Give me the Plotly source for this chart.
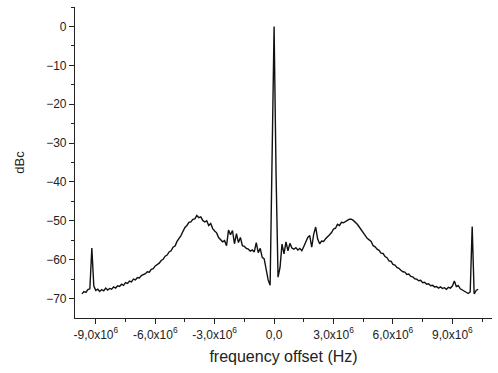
import numpy as np
import plotly.graph_objects as go

# frequency offset (MHz) and level (dBc)
freq_mhz = [
    -9.7, -9.6, -9.5, -9.4, -9.3, -9.2, -9.1, -9.0, -8.9, -8.8,
    -8.7, -8.6, -8.5, -8.4, -8.3, -8.2, -8.1, -8.0, -7.9, -7.8,
    -7.7, -7.6, -7.5, -7.4, -7.3, -7.2, -7.1, -7.0, -6.9, -6.8,
    -6.7, -6.6, -6.5, -6.4, -6.3, -6.2, -6.1, -6.0, -5.9, -5.8,
    -5.7, -5.6, -5.5, -5.4, -5.3, -5.2, -5.1, -5.0, -4.9, -4.8,
    -4.7, -4.6, -4.5, -4.4, -4.3, -4.2, -4.1, -4.0, -3.9, -3.8,
    -3.7, -3.6, -3.5, -3.4, -3.3, -3.2, -3.1, -3.0, -2.9, -2.8,
    -2.7, -2.6, -2.5, -2.4, -2.3, -2.2, -2.1, -2.0, -1.9, -1.8,
    -1.7, -1.6, -1.5, -1.4, -1.3, -1.2, -1.1, -1.0, -0.9, -0.8,
    -0.7, -0.6, -0.5, -0.4, -0.3, -0.2, -0.1, 0.0, 0.1, 0.2,
    0.3, 0.4, 0.5, 0.6, 0.7, 0.8, 0.9, 1.0, 1.1, 1.2,
    1.3, 1.4, 1.5, 1.6, 1.7, 1.8, 1.9, 2.0, 2.1, 2.2,
    2.3, 2.4, 2.5, 2.6, 2.7, 2.8, 2.9, 3.0, 3.1, 3.2,
    3.3, 3.4, 3.5, 3.6, 3.7, 3.8, 3.9, 4.0, 4.1, 4.2,
    4.3, 4.4, 4.5, 4.6, 4.7, 4.8, 4.9, 5.0, 5.1, 5.2,
    5.3, 5.4, 5.5, 5.6, 5.7, 5.8, 5.9, 6.0, 6.1, 6.2,
    6.3, 6.4, 6.5, 6.6, 6.7, 6.8, 6.9, 7.0, 7.1, 7.2,
    7.3, 7.4, 7.5, 7.6, 7.7, 7.8, 7.9, 8.0, 8.1, 8.2,
    8.3, 8.4, 8.5, 8.6, 8.7, 8.8, 8.9, 9.0, 9.1, 9.2,
    9.3, 9.4, 9.5, 9.6, 9.7, 9.8, 9.9, 10.0, 10.1, 10.2,
    10.3,
]
level_dbc = [
    -68.8, -68.2, -68.4, -67.7, -67.5, -57.0, -66.8, -67.9, -67.6, -68.2,
    -67.7, -68.0, -67.3, -67.8, -67.4, -67.6, -67.0, -67.3, -66.7, -66.9,
    -66.3, -66.6, -65.9, -66.1, -65.5, -65.7, -65.0, -65.2, -64.6, -64.7,
    -64.1, -63.9, -63.6, -63.1, -63.2, -62.5, -62.3, -61.6, -61.2, -60.9,
    -60.2, -59.9, -59.1, -58.8, -58.0, -57.7, -56.8, -56.5, -55.3, -54.6,
    -53.8, -52.7, -51.7, -51.2, -50.4, -50.3, -49.6, -49.5, -48.6, -49.2,
    -49.0, -49.9, -50.3, -50.0, -51.2, -50.7, -52.0, -52.6, -53.1, -54.3,
    -54.9, -55.4, -55.1, -56.4, -52.4, -53.6, -52.5, -55.9, -53.3, -55.6,
    -54.3, -56.4, -56.6, -57.1, -57.3, -57.8, -57.5, -58.0, -55.6, -58.2,
    -57.1, -59.4, -59.8, -63.0, -65.2, -66.6, -38.0, 0.0, -38.0, -64.5,
    -62.0, -56.0, -58.5, -55.4, -57.7, -55.8, -57.0, -57.3, -56.9, -57.5,
    -57.1, -57.7, -56.6, -55.4, -54.3, -53.8, -56.8, -53.4, -51.6, -54.7,
    -55.9, -55.2, -55.3, -54.6, -54.2, -53.6, -53.0, -52.1, -51.9, -50.9,
    -51.2, -50.4, -50.5, -50.1, -49.9, -49.6, -49.6, -49.9, -50.3, -50.9,
    -51.6, -52.4, -53.1, -53.7, -54.5, -54.9, -55.3, -56.4, -56.7, -57.3,
    -57.6, -58.3, -58.4, -59.2, -59.5, -60.3, -60.4, -61.2, -61.4, -62.0,
    -62.2, -62.7, -63.1, -63.2, -63.8, -63.7, -64.3, -64.4, -64.9, -65.0,
    -65.4, -65.3, -65.9, -65.8, -66.3, -66.2, -66.7, -66.6, -67.0, -66.9,
    -67.3, -67.0, -67.4, -67.2, -67.6, -67.1, -67.3, -66.8, -65.5, -66.9,
    -66.7, -67.5, -67.8, -68.1, -68.4, -68.7, -68.3, -51.5, -68.8, -67.9,
    -67.6,
]

x_tick_vals = [-9e6, -6e6, -3e6, 0, 3e6, 6e6, 9e6]
x_tick_text = ["-9,0x10<sup>6</sup>", "-6,0x10<sup>6</sup>", "-3,0x10<sup>6</sup>", "0,0",
               "3,0x10<sup>6</sup>", "6,0x10<sup>6</sup>", "9,0x10<sup>6</sup>"]
x_minor_vals = [-7.5e6, -4.5e6, -1.5e6, 1.5e6, 4.5e6, 7.5e6, 10.5e6]
y_tick_vals = [0, -10, -20, -30, -40, -50, -60, -70]
y_minor_vals = [5, -5, -15, -25, -35, -45, -55, -65]

freq_hz = np.array(freq_mhz) * 1e6

fig = go.Figure()
fig.add_trace(go.Scatter(
    x=freq_hz, y=level_dbc, mode="lines",
    line=dict(color="#111111", width=1.4),
    showlegend=False, hoverinfo="skip",
))

font = dict(family="Liberation Sans, Arial, sans-serif", size=12, color="#222222")

fig.update_layout(
    width=498, height=373,
    margin=dict(l=75, r=6, t=7, b=55, autoexpand=False),
    paper_bgcolor="white", plot_bgcolor="white",
    font=font,
    xaxis=dict(
        range=[-10.05e6, 11e6],
        tickmode="array", tickvals=x_tick_vals, ticktext=x_tick_text,
        ticks="outside", ticklen=5, tickwidth=1, tickcolor="#222",
        minor=dict(tickvals=x_minor_vals, ticks="outside", ticklen=3, tickcolor="#222"),
        showline=True, linecolor="#222", linewidth=1.2,
        showgrid=False, zeroline=False, automargin=False,
        title=dict(text="frequency offset (Hz)", font=dict(size=16), standoff=10),
    ),
    yaxis=dict(
        range=[-75, 5],
        tickmode="array", tickvals=y_tick_vals,
        ticks="outside", ticklen=5, tickwidth=1, tickcolor="#222",
        minor=dict(tickvals=y_minor_vals, ticks="outside", ticklen=3, tickcolor="#222"),
        showline=True, linecolor="#222", linewidth=1.2,
        showgrid=False, zeroline=False, automargin=False,
        title=dict(text="dBc", font=dict(size=13), standoff=18),
    ),
)

fig.write_html("out.html", config={"displayModeBar": False},
               post_script="document.body.style.margin='0';")
